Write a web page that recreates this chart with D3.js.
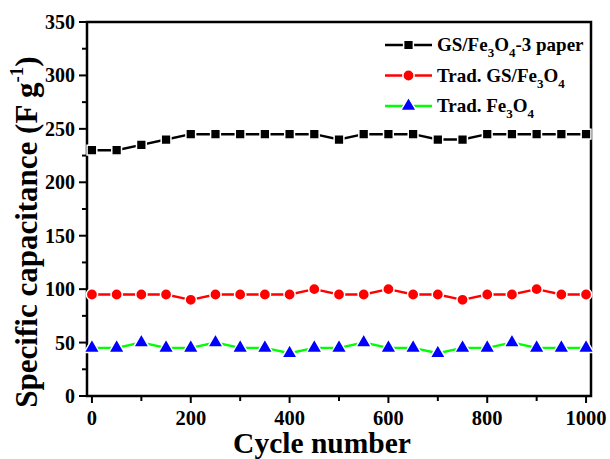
<!DOCTYPE html>
<html>
<head>
<meta charset="utf-8">
<script src="https://cdn.jsdelivr.net/npm/d3@7"></script>
<style>
  body { margin: 0; background: #fff; }
  text { font-family: "Liberation Serif", "Times New Roman", serif; font-weight: bold; }
</style>
</head>
<body>
<script>
// cycle numbers and capacitance values
var cycles = [0, 50, 100, 150, 200, 250, 300, 350, 400, 450, 500, 550, 600, 650, 700, 750, 800, 850, 900, 950, 1000];
var paper  = [230, 230, 235, 240, 245, 245, 245, 245, 245, 245, 240, 245, 245, 245, 240, 240, 245, 245, 245, 245, 245];
var tradGS = [95, 95, 95, 95, 90, 95, 95, 95, 95, 100, 95, 95, 100, 95, 95, 90, 95, 95, 100, 95, 95];
var tradFe = [45, 45, 50, 45, 45, 50, 45, 45, 40, 45, 45, 50, 45, 45, 40, 45, 45, 50, 45, 45, 45];
var xTicks = [0, 200, 400, 600, 800, 1000];
var yTicks = [0, 50, 100, 150, 200, 250, 300, 350];

var width = 610, height = 459;
var margin = {top: 22, right: 19, bottom: 63, left: 87};

var svg = d3.select("body").append("svg")
    .attr("width", width)
    .attr("height", height);

var x = d3.scaleLinear()
    .domain([-10, 1010])
    .range([margin.left, width - margin.right]);

var y = d3.scaleLinear()
    .domain([0, 350])
    .range([height - margin.bottom, margin.top]);

var series = [
  {name: "paper", values: paper, line: "#000000", fill: "#000000", shape: d3.symbolSquare, size: 95},
  {name: "gs", values: tradGS, line: "#ff0000", fill: "#ff0000", shape: d3.symbolCircle, size: 100},
  {name: "fe", values: tradFe, line: "#00ff00", fill: "#0000ff", shape: d3.symbolTriangle, size: 105}
];

// frame
svg.append("rect")
    .attr("x", x(-10))
    .attr("y", y(350))
    .attr("width", x(1010) - x(-10))
    .attr("height", y(0) - y(350))
    .attr("fill", "none")
    .attr("stroke", "#000")
    .attr("stroke-width", 2.5);

// x axis
var xAxis = svg.append("g")
    .attr("transform", "translate(0," + y(0) + ")");
xAxis.selectAll("line.minor")
    .data(d3.range(0, 1001, 100))
    .enter().append("line")
      .attr("x1", function(d) { return x(d); })
      .attr("x2", function(d) { return x(d); })
      .attr("y1", 0)
      .attr("y2", function(d) { return d % 200 == 0 ? 7 : 5; })
      .attr("stroke", "#000")
      .attr("stroke-width", 2);
xAxis.selectAll("text")
    .data(xTicks)
    .enter().append("text")
      .attr("x", function(d) { return x(d); })
      .attr("y", 29)
      .attr("text-anchor", "middle")
      .attr("font-size", 20.5)
      .text(function(d) { return d; });

// y axis
var yAxis = svg.append("g")
    .attr("transform", "translate(" + x(-10) + ",0)");
yAxis.selectAll("line")
    .data(d3.range(0, 351, 25))
    .enter().append("line")
      .attr("y1", function(d) { return y(d); })
      .attr("y2", function(d) { return y(d); })
      .attr("x1", 0)
      .attr("x2", function(d) { return d % 50 == 0 ? -8 : -5; })
      .attr("stroke", "#000")
      .attr("stroke-width", 2);
yAxis.selectAll("text")
    .data(yTicks)
    .enter().append("text")
      .attr("x", -12)
      .attr("y", function(d) { return y(d) + 7; })
      .attr("text-anchor", "end")
      .attr("font-size", 20)
      .text(function(d) { return d; });

// axis titles
svg.append("text")
    .attr("x", 322)
    .attr("y", 453)
    .attr("text-anchor", "middle")
    .attr("font-size", 29.5)
    .text("Cycle number");

var yTitle = svg.append("text")
    .attr("transform", "translate(37," + 232 + ") rotate(-90)")
    .attr("text-anchor", "middle")
    .attr("font-size", 31);
yTitle.append("tspan").text("Specific capacitance (F g");
yTitle.append("tspan").attr("dy", -14).attr("font-size", 19).text("-1");
yTitle.append("tspan").attr("dy", 14).text(")");

// lines and markers
var line = d3.line()
    .x(function(d, i) { return x(cycles[i]); })
    .y(function(d) { return y(d); });

series.forEach(function(s) {
  svg.append("path")
      .datum(s.values)
      .attr("d", line)
      .attr("fill", "none")
      .attr("stroke", s.line)
      .attr("stroke-width", 2.4);

  svg.append("g")
    .selectAll("path")
    .data(s.values)
    .enter().append("path")
      .attr("transform", function(d, i) { return "translate(" + x(cycles[i]) + "," + y(d) + ")"; })
      .attr("d", d3.symbol().type(s.shape).size(s.size))
      .attr("fill", s.fill)
      .attr("stroke", "#fff")
      .attr("stroke-width", 1.5);
});

// legend
var legendLabels = [
  ["GS/Fe", "3", "O", "4", "-3 paper"],
  ["Trad. GS/Fe", "3", "O", "4", ""],
  ["Trad. Fe", "3", "O", "4", ""]
];
var legend = svg.append("g");
var legendRows = legend.selectAll("g")
    .data(series)
    .enter().append("g")
      .attr("transform", function(d, i) { return "translate(385," + (45 + i * 30.5) + ")"; });
legendRows.append("line")
    .attr("x1", 0).attr("x2", 47)
    .attr("stroke", function(d) { return d.line; })
    .attr("stroke-width", 2.4);
legendRows.append("path")
    .attr("transform", "translate(23.5,0)")
    .attr("d", function(d) { return d3.symbol().type(d.shape).size(d.size)(); })
    .attr("fill", function(d) { return d.fill; })
    .attr("stroke", "#fff")
    .attr("stroke-width", 1.5);
legendRows.each(function(d, i) {
  var parts = legendLabels[i];
  var t = d3.select(this).append("text")
      .attr("x", 52)
      .attr("y", 6)
      .attr("font-size", 19);
  t.append("tspan").text(parts[0]);
  t.append("tspan").attr("dy", 6).attr("font-size", 13).text(parts[1]);
  t.append("tspan").attr("dy", -6).text(parts[2]);
  t.append("tspan").attr("dy", 6).attr("font-size", 13).text(parts[3]);
  if (parts[4]) t.append("tspan").attr("dy", -6).text(parts[4]);
});
</script>
</body>
</html>
